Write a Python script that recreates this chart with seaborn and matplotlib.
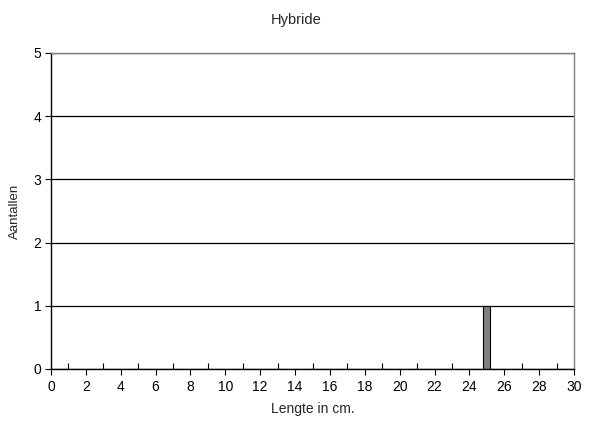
import numpy as np
import pandas as pd
import matplotlib
matplotlib.use("Agg")
import matplotlib.pyplot as plt
import seaborn as sns

# --- datos ---
lengte = [25]        # lengte in cm
aantallen = [1]      # aantal vissen
titel = "Hybride"

df = pd.DataFrame({"Lengte": lengte, "Aantal": aantallen})

sns.set_style("white")
plt.rcParams["font.family"] = ["Liberation Sans", "DejaVu Sans"]

fig = plt.figure(figsize=(5.94, 4.28), dpi=100)
ax = fig.add_axes([51 / 594, 1 - 369 / 428, (574 - 51) / 594, (369 - 53) / 428])

sns.barplot(data=df, x="Lengte", y="Aantal", native_scale=True, width=0.4,
            color="#808080", saturation=1, edgecolor="black", linewidth=0.8, ax=ax)

ax.set_xlim(0, 30)
ax.set_ylim(0, 5)
ax.set_xticks(np.arange(0, 31, 2))
ax.set_xticks(np.arange(1, 30, 2), minor=True)
ax.set_yticks(range(0, 6))
ax.yaxis.grid(True, color="black", linewidth=0.9)
ax.set_axisbelow(True)

ax.tick_params(axis="x", which="both", bottom=True)
ax.tick_params(axis="y", which="major", left=True)
ax.tick_params(axis="x", which="major", direction="out", length=4, width=0.8,
               labelsize=10, colors="black", pad=4)
ax.tick_params(axis="x", which="minor", direction="in", length=4, width=0.8, colors="black")
ax.tick_params(axis="y", direction="out", length=4, width=0.8, labelsize=10,
               colors="black", pad=3)

for s in ["left", "bottom"]:
    ax.spines[s].set_color("black")
    ax.spines[s].set_linewidth(1.0)
for s in ["top", "right"]:
    ax.spines[s].set_visible(True)
    ax.spines[s].set_color("#808080")
    ax.spines[s].set_linewidth(1.0)

ax.set_xlabel("Lengte in cm.", fontsize=10, labelpad=6)
ax.set_ylabel("Aantallen", fontsize=9.5, labelpad=9)
fig.text(296 / 594, 1 - 20 / 428, titel, ha="center", va="center", fontsize=10.5)

fig.savefig("out.png", dpi=100, facecolor="white")
